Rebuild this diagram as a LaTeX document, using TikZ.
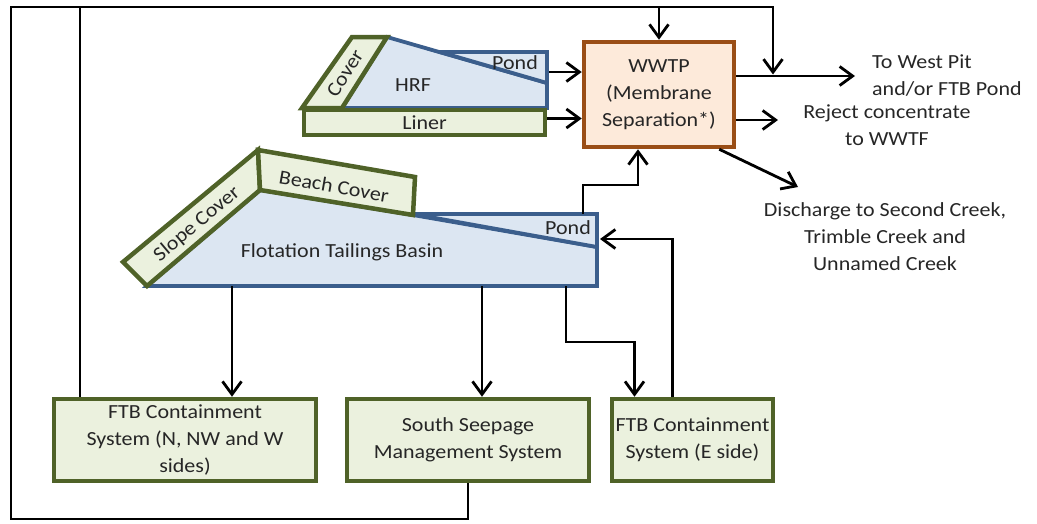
\documentclass[tikz,border=0pt]{standalone}
\usepackage{fontspec}
\setmainfont{Carlito}[FakeStretch=1.1]
\usetikzlibrary{arrows.meta}
\definecolor{greenfill}{HTML}{EBF1DE}
\definecolor{greenline}{HTML}{4F6228}
\definecolor{bluefill}{HTML}{DCE6F2}
\definecolor{blueline}{HTML}{3B5E8C}
\definecolor{wwtpfill}{HTML}{FDEADA}
\definecolor{wwtpline}{HTML}{9A4E16}
\definecolor{txt}{HTML}{262626}

\begin{document}
\begin{tikzpicture}[x=1pt,y=-1pt,
  font=\fontsize{20}{27}\selectfont, text=txt,
  sysbox/.style={draw=greenline, fill=greenfill, line width=4.5pt, minimum height=82pt, align=center, inner sep=1pt},
  flow/.style={line width=2.8pt, -{Straight Barb[length=13pt,width=19pt]}},
  link/.style={line width=2.8pt},
  lbl/.style={align=center, inner sep=0pt},
  basin/.style={draw=blueline, fill=bluefill, line width=3.8pt, line join=miter},
  cover/.style={draw=greenline, fill=greenfill, line width=4.5pt, line join=miter}]
  \useasboundingbox (0,0) rectangle (1037,523);

  % HRF
  \draw[basin] (342,108) -- (387,37) -- (547,83) -- (547,108) -- cycle;
  \draw[basin] (440,52) -- (547,52) -- (547,83) -- cycle;
  \draw[cover] (302,108) -- (342,108) -- (387,37) -- (352,37) -- cycle;
  \node[sysbox, minimum width=241pt, minimum height=25pt] (liner) at (424.5,122.5) {Liner};
  \node[lbl, rotate=57.6] (hrfcover) at (345,73) {Cover};
  \node[lbl] (hrflbl) at (413,85) {HRF};
  \node[lbl] (hrfpondlbl) at (515,63) {Pond};
  \coordinate (hrfpond) at (549,72);

  % flotation tailings basin
  \draw[basin] (147,286) -- (260,190) -- (413,215) -- (597,247) -- (597,286) -- cycle;
  \draw[basin] (413,214) -- (597,214) -- (597,247) -- cycle;
  \draw[cover] (123,262) -- (258,150) -- (260,190) -- (147,286) -- cycle;
  \draw[cover] (258,150) -- (415,177) -- (413,215) -- (260,190) -- cycle;
  \node[lbl, rotate=40] (slopecover) at (197,224) {Slope Cover};
  \node[lbl, rotate=-10] (beachcover) at (334,186) {Beach Cover};
  \node[lbl] (ftblbl) at (342,252) {Flotation Tailings Basin};
  \node[lbl] (ftbpondlbl) at (568,228) {Pond};
  \coordinate (ftbpondtop) at (583,214);
  \coordinate (ftbpondside) at (600,239);
  \coordinate (ftbnwout) at (232,286);
  \coordinate (ssmsout) at (482,286);
  \coordinate (ftbeout) at (566,286);

  \node[draw=wwtpline, fill=wwtpfill, line width=4.5pt, minimum width=150pt, minimum height=105pt, align=center, inner sep=1pt] (wwtp) at (659,94.5) {WWTP\\(Membrane\\Separation*)};

  \node[sysbox, minimum width=262pt] (ftbnw) at (185,440) {FTB Containment\\System (N, NW and W\\sides)};
  \node[sysbox, minimum width=242pt] (ssms) at (468,440) {South Seepage\\Management System};
  \node[sysbox, minimum width=161pt] (ftbe) at (692.5,440) {FTB Containment\\System (E side)};

  \node[lbl, align=left, anchor=west] (westpit) at (872,76) {To West Pit\\and/or FTB Pond};
  \node[lbl] (reject) at (887,125) {Reject concentrate\\to WWTF};
  \node[lbl] (discharge) at (885,237) {Discharge to Second Creek,\\Trimble Creek and\\Unnamed Creek};
  \coordinate (rejectin) at (778,120);
  \coordinate (dischargein) at (798,187);

  \coordinate (topleft) at (11,7);
  \coordinate (topright) at (773,7);
  \coordinate (botleft) at (11,519);
  \coordinate (nwriser) at (80,7);

  \draw[flow] (ssms.south) |- (botleft) -- (topleft) -- (topright) -- ([yshift=1.5pt]topright |- westpit.west);
  \draw[link] (ftbnw.north -| nwriser) -- (nwriser);
  \draw[flow] (wwtp.north |- topright) -- (wwtp.north);
  \draw[flow] (hrfpond) -- (hrfpond -| wwtp.west);
  \draw[flow] ([yshift=4pt]liner.east) -- ([yshift=4pt]liner.east -| wwtp.west);
  \draw[flow] (wwtp.east |- westpit.west) -- ([xshift=-17pt]westpit.west);
  \draw[flow] (wwtp.east |- rejectin) -- (rejectin);
  \draw[flow] ([xshift=-17pt]wwtp.south east) -- (dischargein);
  \draw[flow] (ftbpondtop) -- ++(0,-29) -| ([xshift=-21pt]wwtp.south);
  \draw[flow] ([xshift=-20pt]ftbe.north) |- (ftbpondside);
  \draw[flow] (ftbnwout) -- (ftbnwout |- ftbnw.north);
  \draw[flow] (ssmsout) -- (ssmsout |- ssms.north);
  \draw[flow] (ftbeout) -- ++(0,56) -| ([xshift=-58pt]ftbe.north);
\end{tikzpicture}
\end{document}
